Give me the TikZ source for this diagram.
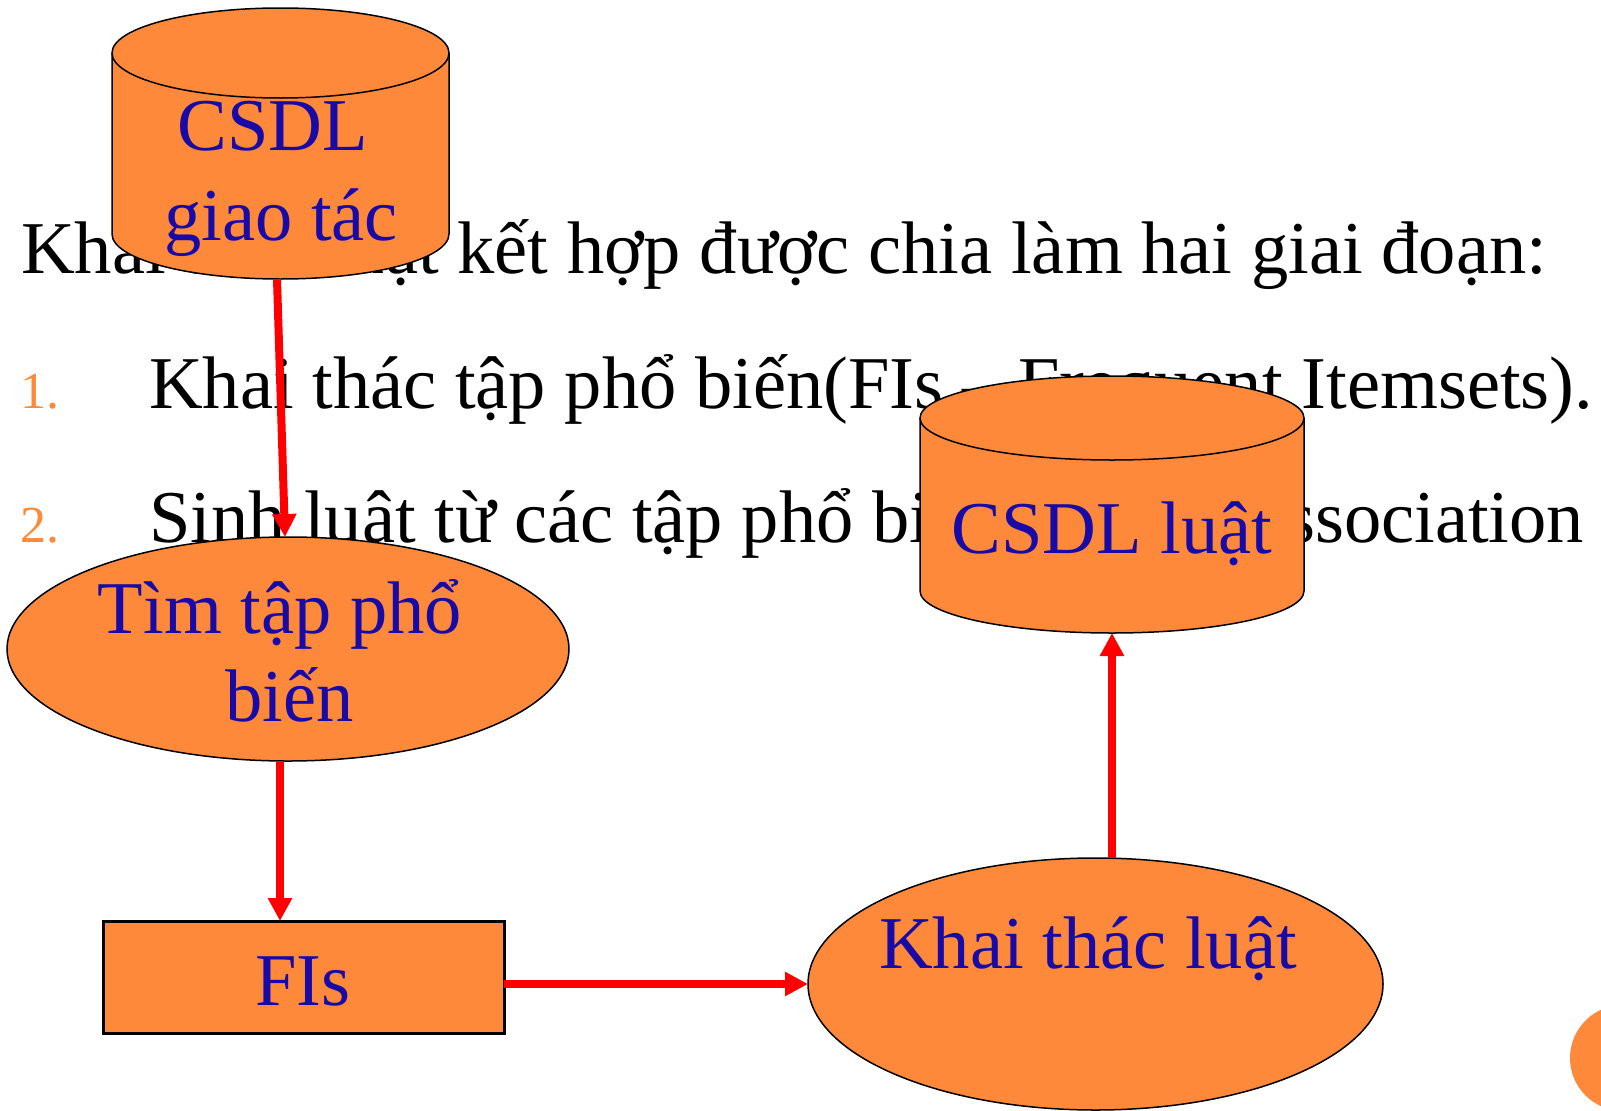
\documentclass[tikz,border=0pt]{standalone}
\usepackage{fontspec}
\setmainfont{Liberation Serif}
\usetikzlibrary{arrows.meta,shapes.geometric}
\definecolor{shapeorange}{RGB}{255,137,58}
\definecolor{labelblue}{RGB}{24,10,166}
\definecolor{flowred}{RGB}{255,0,0}

\begin{document}
\begin{tikzpicture}[x=1pt,y=1pt,
  bigtext/.style={inner sep=0pt, outer sep=0pt, font=\fontsize{74.5}{89}\selectfont},
  bodytext/.style={bigtext, anchor=base west, text=black},
  numtext/.style={inner sep=0pt, outer sep=0pt, anchor=base west, text=shapeorange, font=\fontsize{52}{62}\selectfont},
  lbl/.style={bigtext, anchor=base, text=labelblue},
  dbshape/.style={fill=shapeorange, draw=black, line width=1.5pt},
  anchorbox/.style={rectangle, inner sep=0pt, outer sep=0pt, draw=none},
  procellipse/.style={ellipse, inner sep=0pt, outer sep=0pt, fill=shapeorange, draw=black, line width=1.5pt},
  procbox/.style={rectangle, inner sep=0pt, outer sep=0pt, fill=shapeorange, draw=black, line width=3pt},
  flow/.style={draw=flowred, line width=8pt, -{Triangle[width=23pt,length=23pt]}},
]
\useasboundingbox (0,0) rectangle (1601,-1111);
\fill[white] (0,0) rectangle (1601,-1111);

% slide text
\node[bodytext] (intro) at (21,-273) {Khai thác luật kết hợp được chia làm hai giai đoạn:};
\node[numtext] (n1) at (20,-408) {1.};
\node[bodytext] (item1) at (149,-408) {Khai thác tập phổ biến(FIs – Frequent Itemsets).};
\node[numtext] (n2) at (20,-542) {2.};
\node[bodytext] (item2) at (149,-542) {Sinh luật từ các tập phổ biến(ARs – Association};

% transaction database cylinder
\filldraw[dbshape] (112,-53) -- (112,-234)
  arc[start angle=180,end angle=360,x radius=168.5,y radius=45] -- (449,-53)
  arc[start angle=0,end angle=180,x radius=168.5,y radius=45] -- cycle;
\draw[dbshape, fill=none] (449,-53) arc[start angle=0,end angle=-180,x radius=168.5,y radius=45];
\node[anchorbox, minimum width=337pt, minimum height=271pt] (db1) at (280.5,-143.5) {};

% rule database cylinder
\filldraw[dbshape] (920,-418) -- (920,-591)
  arc[start angle=180,end angle=360,x radius=192,y radius=42] -- (1304,-418)
  arc[start angle=0,end angle=180,x radius=192,y radius=42] -- cycle;
\draw[dbshape, fill=none] (1304,-418) arc[start angle=0,end angle=-180,x radius=192,y radius=42];
\node[anchorbox, minimum width=384pt, minimum height=257pt] (db2) at (1112,-504.5) {};

% processes
\node[procellipse, minimum width=562pt, minimum height=224pt] (find) at (288,-649) {};
\node[procellipse, minimum width=575pt, minimum height=252pt] (mine) at (1095.5,-984) {};
\node[procbox, minimum width=401pt, minimum height=112pt] (fis) at (303.5,-977) {};

% corner decoration
\fill[shapeorange] (1623,-1058) circle[radius=53];

% labels
\node[lbl] (db1top) at (273,-150) {CSDL};
\node[lbl] (db1bot) at (281,-240) {giao tác};
\node[lbl] (db2txt) at (1112,-553) {CSDL luật};
\node[lbl] (find1) at (280,-633) {Tìm tập phổ};
\node[lbl] (find2) at (289.5,-721) {biến};
\node[lbl] (fistxt) at (303,-1005) {FIs};
\node[lbl] (minetxt) at (1088,-968) {Khai thác luật};

% flow arrows
\draw[flow] ([xshift=-3.5pt]db1.south) -- ([xshift=-3pt]find.north);
\draw[flow] ([xshift=-8pt]find.south) -- ([xshift=-23.5pt]fis.north);
\draw[flow] (fis.east |- mine.west) -- (mine.west);
\draw[flow] (mine.north -| db2.south) -- (db2.south);
\end{tikzpicture}
\end{document}
